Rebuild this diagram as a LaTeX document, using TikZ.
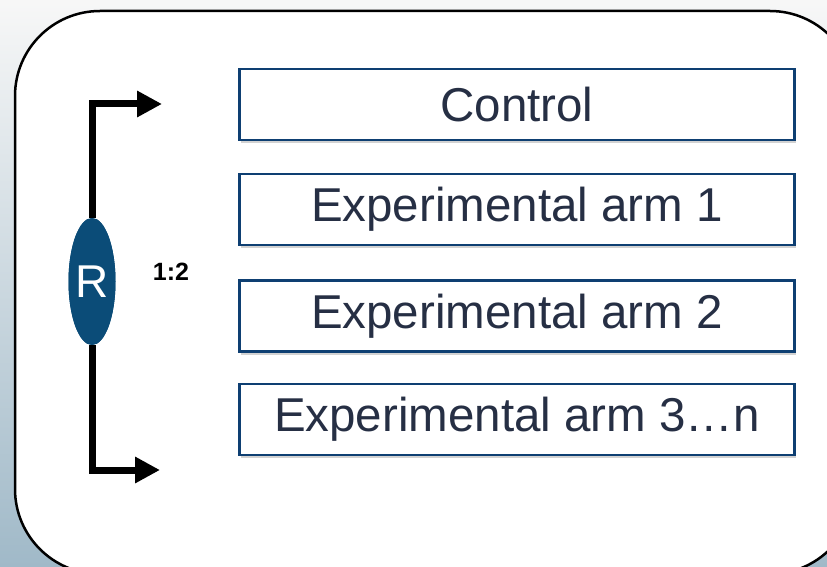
\documentclass[tikz,border=0pt]{standalone}
\usepackage{fontspec}
\setmainfont{Liberation Sans}
\usepackage{xcolor}
\usetikzlibrary{positioning, shapes.geometric, arrows.meta, shadows}
\definecolor{armblue}{RGB}{14,63,114}
\definecolor{rblue}{RGB}{11,76,120}
\definecolor{armtext}{RGB}{38,47,68}
\definecolor{bgblue}{RGB}{160,185,200}
\begin{document}
\begin{tikzpicture}[x=1pt,y=-1pt]
						\tikzstyle{arm}=[draw=armblue,line width=2.5pt,fill=white,minimum width=555pt,minimum height=71pt,inner sep=0pt,text=armtext,font=\fontsize{47.5}{56}\selectfont,drop shadow={shadow xshift=1pt,shadow yshift=-3pt,opacity=.35}]
						\tikzstyle{branch}=[line width=7pt,-{Triangle[length=25pt,width=25pt]}]
						\useasboundingbox (0,0) rectangle (827,567);
						\shade[top color=gray!6,bottom color=bgblue] (0,0) rectangle (827,567);
						\draw[fill=white,line width=2.5pt,rounded corners=85pt] (15,11) rectangle (855,574);
						\node[arm](ctrl) at (517,104.5) {Control};
						\node[arm](arm1) at (517,209.5) {Experimental arm 1};
						\node[arm](arm2) at (517,316) {Experimental arm 2};
						\node[arm](arm3) at (517,419.5) {Experimental arm 3\ldots n};
						\node[ellipse,fill=rblue,minimum width=47pt,minimum height=127pt,inner sep=0pt](rnd) at (92,281.5) {};
						\coordinate (upTip) at (162,104);
						\coordinate (downTip) at (160,470);
						\draw[branch](rnd) |- (upTip);
						\draw[branch](rnd) |- (downTip);
						\node[ellipse,fill=rblue,minimum width=47pt,minimum height=127pt,inner sep=0pt,text=white,font=\fontsize{46}{54}\selectfont] at (rnd) {R};
						\node[text={RGB:red,50;green,44;blue,36},font=\bfseries\fontsize{25}{30}\selectfont](ratio) at (171,272) {1:2};
					\end{tikzpicture}
\end{document}
